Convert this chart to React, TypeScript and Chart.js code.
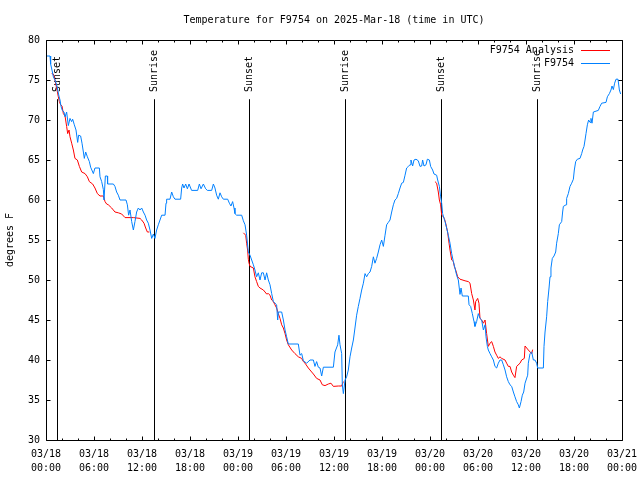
import React, { useEffect, useRef } from 'react';
import { Chart, registerables } from 'chart.js';

Chart.register(...registerables);

const TITLE = 'Temperature for F9754 on 2025-Mar-18 (time in UTC)';
const Y_LABEL = 'degrees F';
const MONTH = '03';
const START_DAY = 18;

const seriesLabels = ['F9754 Analysis', 'F9754'];
const seriesColors = ['#ff0000', '#0080ff'];

// Observations (hours since 03/18 00:00 UTC, degrees F)
const obsHours = [
  0.1, 0.5, 0.58, 0.8, 0.92, 1.12, 1.33, 1.62, 1.75, 1.88, 2.04, 2.25, 2.38, 2.58, 2.79, 3.0, 3.2, 3.33, 3.54, 3.75,
  3.96, 4.08, 4.33, 4.5, 4.67, 4.79, 4.96, 5.17, 5.42, 5.58, 5.92, 6.12, 6.67, 6.75, 6.96, 7.17, 7.25, 7.42, 7.67, 7.7,
  8.42, 8.62, 8.83, 9.04, 9.25, 10.0, 10.17, 10.33, 10.5, 10.71, 10.92, 11.12, 11.33, 11.54, 11.75, 11.96, 12.17, 12.38, 12.58, 12.79,
  13.0, 13.21, 13.42, 13.62, 13.83, 14.04, 14.25, 14.46, 14.88, 15.0, 15.08, 15.5, 15.71, 15.92, 16.12, 16.83, 16.96, 17.08, 17.25, 17.46,
  17.67, 17.88, 18.08, 18.2, 18.96, 19.17, 19.38, 19.67, 19.96, 20.17, 20.71, 20.92, 21.12, 21.33, 21.54, 21.75, 21.96, 22.17, 22.71, 22.92,
  23.12, 23.33, 23.5, 23.62, 23.83, 24.46, 24.67, 24.88, 25.08, 25.29, 25.5, 25.71, 25.92, 26.12, 26.33, 26.54, 26.75, 26.96, 27.17, 27.38,
  27.58, 27.79, 28.0, 28.21, 28.42, 28.83, 28.96, 29.04, 29.46, 29.67, 29.88, 30.08, 30.29, 31.54, 31.75, 31.96, 32.17, 32.58, 33.0, 33.42,
  33.62, 33.83, 34.04, 34.25, 34.46, 34.67, 35.92, 36.12, 36.46, 36.62, 36.75, 36.96, 37.04, 37.17, 37.38, 37.58, 37.79, 38.0, 38.21, 38.42,
  38.62, 38.83, 39.04, 39.25, 39.46, 39.67, 39.88, 40.08, 40.29, 40.5, 40.71, 40.92, 41.12, 41.33, 41.54, 41.75, 41.96, 42.17, 42.38, 42.58,
  42.79, 43.0, 43.21, 43.42, 43.62, 43.83, 44.04, 44.25, 44.46, 44.67, 44.88, 45.08, 45.29, 45.5, 45.62, 45.83, 46.0, 46.25, 46.54, 46.75,
  46.96, 47.08, 47.25, 47.5, 47.67, 47.92, 48.08, 48.33, 48.5, 48.83, 48.96, 49.17, 49.33, 49.46, 49.58, 49.75, 49.88, 50.08, 50.29, 50.5,
  50.71, 50.92, 51.12, 51.33, 51.54, 51.75, 51.88, 52.04, 52.79, 52.88, 53.08, 53.29, 53.5, 53.62, 53.83, 54.04, 54.25, 54.46, 54.67, 54.88,
  55.0, 55.17, 55.29, 55.5, 55.71, 55.92, 56.12, 56.33, 56.54, 56.75, 56.96, 57.17, 57.38, 57.58, 57.79, 58.0, 58.21, 58.42, 58.62, 58.83,
  59.04, 59.17, 59.38, 59.54, 59.71, 59.88, 60.21, 60.29, 60.5, 60.71, 60.92, 61.12, 61.33, 61.46, 62.17, 62.25, 62.38, 62.58, 62.71, 62.88,
  63.0, 63.12, 63.29, 63.5, 63.71, 63.83, 64.04, 64.17, 64.46, 64.58, 64.67, 65.0, 65.08, 65.29, 65.5, 65.71, 65.92, 66.04, 66.21, 66.42,
  66.75, 66.96, 67.08, 67.25, 67.38, 67.5, 67.67, 67.83, 68.0, 68.12, 68.25, 68.42, 69.04, 69.25, 69.46, 70.0, 70.17, 70.42, 70.62, 70.75,
  70.92, 71.08, 71.25, 71.5, 71.67, 71.83,
];
const obsTemps = [
  78, 78, 77, 76, 75.4, 75, 74.4, 73, 72.5, 71.7, 71.2, 71, 70.4, 71, 69.3, 70.2, 69.8, 70.1, 69.4, 68.75,
  67.2, 68.1, 68, 67.1, 66, 65.2, 66, 65.4, 64.8, 64.1, 63.3, 64, 64, 62.9, 62.3, 61.3, 60, 63, 63, 62,
  62, 61.7, 61, 60.6, 60, 60, 59.4, 58.1, 58.75, 57.3, 56.25, 57.3, 58.5, 59, 58.75, 59, 58.5, 58.1, 57.5, 57.1,
  56.25, 55.2, 55.75, 55.2, 56.25, 56.9, 57.5, 58.1, 58.1, 59.6, 60.1, 60.1, 61, 60.4, 60.1, 60.1, 61.5, 62, 61.5, 62,
  61.4, 62, 61.5, 61.2, 61.2, 62, 61.4, 62, 61.4, 61.2, 61.2, 62, 61.5, 60.6, 60.1, 60.9, 60.4, 60.1, 60.1, 59.6,
  59.25, 59.8, 59, 58.3, 58.1, 58.1, 57.4, 56.9, 55.6, 53.5, 53.1, 52.5, 51.9, 51.25, 50.4, 50.9, 50, 50.9, 50.9, 50,
  50.9, 50, 49.4, 48.3, 47.3, 46.9, 45, 46, 46, 45, 43.75, 42.9, 42, 42, 40.6, 40.8, 39.9, 39.6, 40, 40,
  39.2, 39.8, 39.1, 39, 38, 39.1, 39.1, 41, 41.9, 43.1, 41.9, 40.8, 36.9, 35.8, 37.5, 37.9, 38.75, 40.4, 41.5, 42.5,
  44, 45.6, 46.7, 47.7, 48.75, 49.6, 50.8, 50.4, 50.8, 51, 51.7, 52.9, 52.1, 52.7, 53.5, 54.4, 55, 54.2, 55.6, 56.9,
  57.2, 57.5, 58.5, 59.4, 60, 60.2, 60.8, 61.5, 62.1, 62.2, 63.1, 64, 64.2, 64.4, 65, 64.25, 65, 65.1, 64.9, 64.2,
  64.25, 65, 64.25, 64.4, 65.1, 65, 64.2, 63.75, 63.25, 63.1, 62.5, 61.7, 60.4, 59.6, 58.3, 57.7, 57.3, 56.5, 55.6, 54.6,
  53.3, 52.3, 51.5, 50.6, 50, 48.2, 49, 48, 48, 46.9, 46.7, 45.8, 44.8, 44.2, 44.8, 45.8, 45.2, 45, 43.75, 44.4,
  42.9, 41.7, 41.25, 40.8, 40.4, 40, 39.2, 39, 39.6, 40, 40, 39.4, 38.75, 37.9, 37.3, 36.9, 36.7, 36, 35.4, 34.8,
  34.4, 34, 34.8, 35.6, 36, 37.1, 38.1, 39.6, 40.8, 41, 40, 40, 39.6, 39, 39, 41.7, 43.5, 45.4, 47.3, 49,
  50.4, 51.5, 52.7, 53, 53.5, 54.6, 55.8, 56.9, 57.3, 58.5, 59.2, 59.4, 60.2, 60.8, 61.7, 62.1, 62.6, 63.75, 64.8, 65.1,
  65.2, 65.8, 66.25, 66.7, 67.5, 68.3, 69.4, 70, 69.7, 70.2, 69.6, 71, 71.2, 71.7, 72.1, 72.2, 72.9, 73.3, 73.75, 74.25,
  73.8, 74.6, 75.1, 75.1, 73.75, 73.25,
];

// Analysis (night-time only; gaps between nights)
const anaHours = [
  0.71, 0.92, 1.12, 1.33, 1.54, 1.67, 1.83, 2.0, 2.17, 2.38, 2.58, 2.71, 2.88, 3.0, 3.21, 3.42, 3.62, 3.92, 4.17, 4.46,
  4.88, 5.17, 5.42, 5.83, 6.12, 6.42, 6.75, 7.17, 7.38, 7.58, 7.79, 8.21, 8.62, 9.04, 9.46, 9.88, 10.92, 11.75, 11.96, 12.25,
  12.46, 12.67, 12.92, 18.0,
  24.67, 24.96, 25.08, 25.2, 25.29, 25.38, 25.5, 25.92, 26.12, 26.33, 26.54, 26.75, 27.17, 27.38, 27.58, 27.79, 28.0, 28.21, 28.42, 28.62,
  28.83, 29.04, 29.25, 29.46, 29.67, 29.88, 30.08, 30.29, 30.71, 31.12, 31.54, 31.96, 32.17, 32.38, 32.79, 33.21, 33.42, 33.83, 34.25, 34.54,
  34.88, 35.29, 35.62, 35.92, 36.54, 36.96, 37.17, 42.0,
  48.62, 48.83, 49.04, 49.17, 49.33, 49.46, 49.67, 49.79, 49.96, 50.2, 50.38, 50.5, 50.71, 50.92, 51.04, 51.21, 51.46, 51.75, 52.38, 52.79,
  53.0, 53.21, 53.42, 53.62, 53.71, 53.96, 54.12, 54.25, 54.46, 54.67, 54.88, 55.08, 55.29, 55.5, 55.71, 55.92, 56.12, 56.33, 56.54, 56.75,
  56.96, 57.38, 57.58, 57.79, 58.0, 58.21, 58.42, 58.62, 58.83, 59.25, 59.46, 59.79, 59.88, 60.29, 60.71, 60.83,
];
const anaTemps = [
  75.8, 75.75, 75, 74, 72.9, 72.3, 71.9, 71.75, 70.8, 70.5, 69.2, 68.3, 68.75, 67.9, 67.1, 66.25, 65.2, 65, 64.2, 63.5,
  63.3, 62.9, 62.3, 62, 61.5, 60.8, 60.5, 60.5, 59.8, 59.5, 59.4, 59, 58.5, 58.4, 58.25, 57.8, 57.8, 57.7, 57.5, 57.1,
  56.5, 56, 56, null,
  55.9, 55.6, 54.6, 53.75, 52.6, 52.1, 51.7, 51.5, 50.4, 49.8, 49.2, 49, 48.75, 48.5, 48.25, 48.3, 48.1, 47.5, 47.3, 46.9,
  46.5, 45.8, 45.2, 44.4, 44, 43.3, 42.5, 41.9, 41.25, 40.8, 40.4, 40.2, 39.8, 39.6, 39, 38.5, 38.25, 37.7, 37.5, 36.9,
  36.8, 37, 37.1, 36.7, 36.75, 36.75, 37.3, null,
  62.3, 62.1, 61, 60, 59.4, 58.1, 57.9, 57.7, 57.1, 56, 54.6, 53.75, 52.5, 52.3, 51.7, 51.25, 50.4, 50.1, 49.9, 49.8,
  49.6, 48.3, 47.5, 46.25, 47.3, 47.7, 47.1, 45.2, 45, 44.6, 45, 43.3, 41.7, 42.1, 42.3, 41.7, 41, 40.6, 40.2, 40.4,
  40.2, 40, 39.6, 39.2, 39.2, 38.5, 38.1, 37.8, 39.2, 39.6, 40, 40.2, 41.75, 41.25, 40.8, 41.3,
];

const eventHours = [1.42, 13.5, 25.42, 37.42, 49.42, 61.42];
const eventLabels = ['Sunset', 'Sunrise', 'Sunset', 'Sunrise', 'Sunset', 'Sunrise'];

const X_MIN = 0;
const X_MAX = 72;
const X_MAJOR = 6;
const X_MINOR = 2;
const Y_MIN = 30;
const Y_MAX = 80;
const Y_STEP = 5;
const EVENT_LINE_TOP = 72.6;
const EVENT_LABEL_BASE = 73.5;

const FONT_FAMILY = "'DejaVu Sans Mono', 'Liberation Mono', monospace";

function xLabel(v: number): string[] {
  const d = START_DAY + Math.floor(v / 24);
  const hh = v % 24;
  return [`${MONTH}/${d}`, `${String(hh).padStart(2, '0')}:00`];
}

const framePlugin = {
  id: 'gnuframe',
  beforeDatasetsDraw(chart: any) {
    const { ctx, chartArea: a, scales } = chart;
    const xs = scales.x;
    const ys = scales.y;
    ctx.save();
    ctx.strokeStyle = '#000';
    ctx.lineWidth = 1;
    const lineTop = ys.getPixelForValue(EVENT_LINE_TOP);
    const labelBase = ys.getPixelForValue(EVENT_LABEL_BASE);
    eventHours.forEach((h, i) => {
      const px = Math.round(xs.getPixelForValue(h)) + 0.5;
      ctx.beginPath();
      ctx.moveTo(px, lineTop);
      ctx.lineTo(px, a.bottom);
      ctx.stroke();
      ctx.save();
      ctx.translate(px, labelBase);
      ctx.rotate(-Math.PI / 2);
      ctx.fillStyle = '#000';
      ctx.font = `10px ${FONT_FAMILY}`;
      ctx.textAlign = 'left';
      ctx.textBaseline = 'middle';
      ctx.fillText(eventLabels[i], 0, 0);
      ctx.restore();
    });
    ctx.restore();
  },
  afterDatasetsDraw(chart: any) {
    const { ctx, chartArea: a, scales } = chart;
    const xs = scales.x;
    const ys = scales.y;
    ctx.save();
    ctx.strokeStyle = '#000';
    ctx.lineWidth = 1;
    const L = Math.round(a.left) + 0.5;
    const R = Math.round(a.right) + 0.5;
    const T = Math.round(a.top) + 0.5;
    const B = Math.round(a.bottom) + 0.5;
    ctx.beginPath();
    ctx.rect(L, T, R - L, B - T);
    ctx.stroke();
    for (let v = X_MIN; v <= X_MAX; v += X_MINOR) {
      const px = Math.round(xs.getPixelForValue(v)) + 0.5;
      const len = v % X_MAJOR === 0 ? 4 : 2;
      ctx.beginPath();
      ctx.moveTo(px, B);
      ctx.lineTo(px, B - len);
      ctx.moveTo(px, T);
      ctx.lineTo(px, T + len);
      ctx.stroke();
    }
    for (let v = Y_MIN; v <= Y_MAX; v += Y_STEP) {
      const py = Math.round(ys.getPixelForValue(v)) + 0.5;
      ctx.beginPath();
      ctx.moveTo(L, py);
      ctx.lineTo(L + 4, py);
      ctx.moveTo(R, py);
      ctx.lineTo(R - 4, py);
      ctx.stroke();
    }
    ctx.font = `10px ${FONT_FAMILY}`;
    ctx.textAlign = 'right';
    ctx.textBaseline = 'middle';
    chart.data.datasets.forEach((ds: any, i: number) => {
      const ry = Math.round(a.top + 10 + i * 12.5) + 0.5;
      ctx.fillStyle = '#000';
      ctx.fillText(ds.label, a.right - 48, ry);
      ctx.strokeStyle = ds.borderColor;
      ctx.beginPath();
      ctx.moveTo(a.right - 41, ry);
      ctx.lineTo(a.right - 12, ry);
      ctx.stroke();
    });
    ctx.restore();
  },
};

export default function App() {
  const canvasRef = useRef<HTMLCanvasElement | null>(null);

  useEffect(() => {
    if (!canvasRef.current) return;
    const obsData = obsHours.map((h, i) => ({ x: h, y: obsTemps[i] }));
    const anaData = anaHours.map((h, i) => ({ x: h, y: anaTemps[i] }));
    const font = { family: FONT_FAMILY, size: 10, weight: 'normal' as const };

    const chart = new Chart(canvasRef.current, {
      type: 'line',
      data: {
        datasets: [
          {
            label: seriesLabels[0],
            data: anaData,
            borderColor: seriesColors[0],
            backgroundColor: seriesColors[0],
            borderWidth: 1,
            pointRadius: 0,
            tension: 0,
            spanGaps: false,
            order: 1,
          },
          {
            label: seriesLabels[1],
            data: obsData,
            borderColor: seriesColors[1],
            backgroundColor: seriesColors[1],
            borderWidth: 1,
            pointRadius: 0,
            tension: 0,
            order: 0,
          },
        ],
      },
      options: {
        animation: false,
        responsive: false,
        devicePixelRatio: 1,
        layout: { padding: { left: 0, right: 18, top: 0, bottom: 0 } },
        plugins: {
          legend: { display: false },
          tooltip: { enabled: false },
          title: {
            display: true,
            text: TITLE,
            color: '#000',
            font: { ...font, lineHeight: 1.2 },
            padding: { top: 14, bottom: 14 },
            fullSize: false,
          },
        },
        scales: {
          x: {
            type: 'linear',
            min: X_MIN,
            max: X_MAX,
            afterFit: (s: any) => {
              s.height = 40;
              s.paddingLeft = 0;
              s.paddingRight = 0;
            },
            grid: { display: false, drawTicks: false },
            border: { display: false },
            ticks: {
              stepSize: X_MAJOR,
              autoSkip: false,
              maxRotation: 0,
              minRotation: 0,
              padding: 7,
              color: '#000',
              font: { ...font, lineHeight: 1.4 },
              callback: (v: any) => xLabel(Number(v)),
            },
          },
          y: {
            type: 'linear',
            min: Y_MIN,
            max: Y_MAX,
            afterFit: (s: any) => {
              s.width = 46;
              s.paddingTop = 0;
              s.paddingBottom = 0;
            },
            grid: { display: false, drawTicks: false },
            border: { display: false },
            title: {
              display: true,
              text: Y_LABEL,
              color: '#000',
              font,
              padding: { top: 4, bottom: 0 },
            },
            ticks: {
              stepSize: Y_STEP,
              padding: 6,
              color: '#000',
              font,
            },
          },
        },
      },
      plugins: [framePlugin],
    });
    return () => chart.destroy();
  }, []);

  return (
    <div style={{ position: 'absolute', left: 0, top: 0, width: 640, height: 480, background: '#fff' }}>
      <canvas ref={canvasRef} width={640} height={480} style={{ display: 'block', width: 640, height: 480 }} />
    </div>
  );
}
